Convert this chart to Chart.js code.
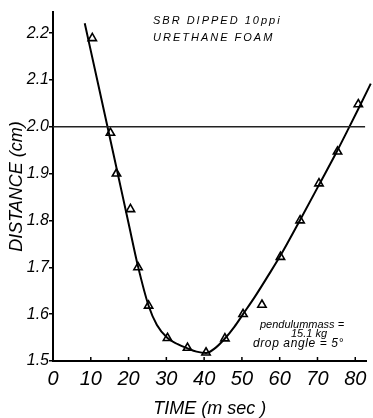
<!DOCTYPE html>
<html>
<head>
<meta charset="utf-8">
<script src="https://cdn.jsdelivr.net/npm/chart.js@4/dist/chart.umd.min.js"></script>
<style>
  html, body { margin: 0; padding: 0; background: #fff; }
  canvas { display: block; }
</style>
</head>
<body>
<canvas id="foamChart" width="373" height="418"></canvas>
<script>
// measured rebound points: time (msec) vs distance (cm)
const timeMs = [10.4, 15.2, 16.8, 20.5, 22.5, 25.3, 30.3, 35.6, 40.5, 45.5, 50.3, 55.3, 60.2, 65.4, 70.4, 75.3, 80.8];
const distanceCm = [2.189, 1.987, 1.900, 1.824, 1.700, 1.618, 1.549, 1.528, 1.518, 1.548, 1.600, 1.620, 1.722, 1.800, 1.879, 1.947, 2.048];

// smooth fitted curve through the measurements
const curveTime = [8.4, 12, 16, 20, 22.5, 25.3, 27.5, 30.3, 33, 35.6, 38, 40.5, 43, 45.5, 48, 50.3, 53.5, 56.7, 60.2, 65.4, 70.4, 75.3, 78.2, 80.8, 84.1];
const curveDistance = [2.221, 2.089, 1.942, 1.794, 1.702, 1.618, 1.577, 1.549, 1.536, 1.527, 1.520, 1.517, 1.528, 1.548, 1.573, 1.600, 1.638, 1.679, 1.725, 1.801, 1.876, 1.950, 1.996, 2.038, 2.092];

// reference level at 2.0 cm
const refLevel = 2.0;
const refSpan = [0, 82.6];

const xTicks = [0, 10, 20, 30, 40, 50, 60, 70, 80];
const yTicks = [1.5, 1.6, 1.7, 1.8, 1.9, 2.0, 2.1, 2.2];

const FONT = "'Liberation Sans', sans-serif";

const toXY = (xs, ys) => xs.map((x, i) => ({ x: x, y: ys[i] }));

// small tick marks on the inside of the time axis + text notes
const extras = {
  id: 'extras',
  afterDraw(chart) {
    const ctx = chart.ctx;
    const xs = chart.scales.x;
    const bottom = chart.chartArea.bottom;
    ctx.save();
    ctx.strokeStyle = '#000';
    ctx.lineWidth = 1.5;
    xTicks.slice(1).forEach(v => {
      const px = xs.getPixelForValue(v);
      ctx.beginPath();
      ctx.moveTo(px, bottom);
      ctx.lineTo(px, bottom - 4);
      ctx.stroke();
    });

    ctx.fillStyle = '#000';
    ctx.textBaseline = 'middle';
    ctx.font = "italic 11px 'Liberation Sans'";
    ctx.letterSpacing = '2px';
    ctx.fillText('SBR DIPPED 10ppi', 153, 21);
    ctx.fillText('URETHANE FOAM', 153, 38);

    ctx.letterSpacing = '0px';
    ctx.font = "italic 11px 'Liberation Sans'";
    ctx.fillText('pendulummass =', 260, 325);
    ctx.fillText('15.1 kg', 291, 334);
    ctx.font = "italic 12px 'Liberation Sans'";
    ctx.letterSpacing = '0.6px';
    ctx.fillText('drop angle = 5°', 253, 344);
    ctx.restore();
  }
};

new Chart(document.getElementById('foamChart'), {
  type: 'scatter',
  data: {
    datasets: [
      {
        label: 'ref',
        data: [{ x: refSpan[0], y: refLevel }, { x: refSpan[1], y: refLevel }],
        showLine: true,
        borderColor: '#222',
        borderWidth: 1.3,
        pointRadius: 0
      },
      {
        label: 'fit',
        data: toXY(curveTime, curveDistance),
        showLine: true,
        borderColor: '#000',
        borderWidth: 2,
        pointRadius: 0,
        tension: 0.4,
        cubicInterpolationMode: 'monotone',
        clip: { left: 2, top: 2, right: 8, bottom: 2 }
      },
      {
        label: 'measured',
        data: toXY(timeMs, distanceCm),
        pointStyle: 'triangle',
        pointRadius: 4.8,
        pointBorderWidth: 1.6,
        pointBackgroundColor: '#fff',
        pointBorderColor: '#000'
      }
    ]
  },
  options: {
    responsive: false,
    animation: false,
    devicePixelRatio: 1,
    layout: { padding: { top: 12, right: 5, left: 0, bottom: 0 } },
    plugins: {
      legend: { display: false },
      tooltip: { enabled: false }
    },
    scales: {
      x: {
        type: 'linear',
        min: 0,
        max: 83,
        afterBuildTicks: s => { s.ticks = xTicks.map(v => ({ value: v })); },
        afterFit: s => { s.height = 57; },
        grid: { display: false, drawTicks: false },
        border: { display: true, color: '#000', width: 2 },
        ticks: {
          color: '#000',
          padding: 6,
          maxRotation: 0,
          font: { family: FONT, size: 20, style: 'italic' }
        },
        title: {
          display: true,
          text: 'TIME (m sec )',
          color: '#000',
          padding: 0,
          font: { family: FONT, size: 18, style: 'italic', lineHeight: 1 }
        }
      },
      y: {
        type: 'linear',
        min: 1.5,
        max: 2.245,
        afterBuildTicks: s => { s.ticks = yTicks.map(v => ({ value: v })); },
        afterFit: s => { s.width = 53; },
        grid: { drawOnChartArea: false, drawTicks: true, tickLength: 4, color: '#000', lineWidth: 1.5 },
        border: { display: true, color: '#000', width: 2 },
        ticks: {
          color: '#000',
          padding: 0,
          callback: v => v.toFixed(1),
          font: { family: FONT, size: 16, style: 'italic' }
        },
        title: {
          display: true,
          text: 'DISTANCE (cm)',
          color: '#000',
          padding: { top: 6, bottom: 0 },
          font: { family: FONT, size: 18, style: 'italic' }
        }
      }
    }
  },
  plugins: [extras]
});
</script>
</body>
</html>
